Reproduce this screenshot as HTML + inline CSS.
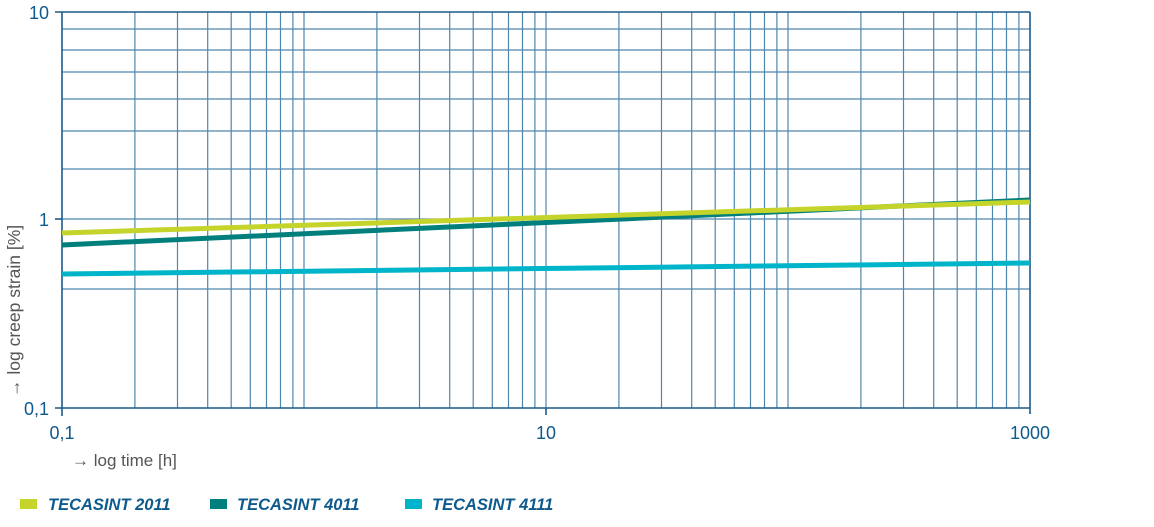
<!DOCTYPE html>
<html><head><meta charset="utf-8"><style>
body{margin:0;background:#fff;width:1154px;height:522px;overflow:hidden}
svg text{font-family:"Liberation Sans",sans-serif}
</style></head><body>
<svg width="1154" height="522" viewBox="0 0 1154 522" xmlns="http://www.w3.org/2000/svg">
<g stroke="#4f86ae" stroke-width="1.2">
<line x1="134.9" y1="12" x2="134.9" y2="408"/><line x1="177.5" y1="12" x2="177.5" y2="408"/><line x1="207.7" y1="12" x2="207.7" y2="408"/><line x1="231.2" y1="12" x2="231.2" y2="408"/><line x1="250.3" y1="12" x2="250.3" y2="408"/><line x1="266.5" y1="12" x2="266.5" y2="408"/><line x1="280.5" y1="12" x2="280.5" y2="408"/><line x1="292.9" y1="12" x2="292.9" y2="408"/><line x1="304" y1="12" x2="304" y2="408"/>
<line x1="376.9" y1="12" x2="376.9" y2="408"/><line x1="419.5" y1="12" x2="419.5" y2="408"/><line x1="449.7" y1="12" x2="449.7" y2="408"/><line x1="473.2" y1="12" x2="473.2" y2="408"/><line x1="492.3" y1="12" x2="492.3" y2="408"/><line x1="508.5" y1="12" x2="508.5" y2="408"/><line x1="522.5" y1="12" x2="522.5" y2="408"/><line x1="534.9" y1="12" x2="534.9" y2="408"/><line x1="546" y1="12" x2="546" y2="408"/>
<line x1="618.9" y1="12" x2="618.9" y2="408"/><line x1="661.5" y1="12" x2="661.5" y2="408"/><line x1="691.7" y1="12" x2="691.7" y2="408"/><line x1="715.2" y1="12" x2="715.2" y2="408"/><line x1="734.3" y1="12" x2="734.3" y2="408"/><line x1="750.5" y1="12" x2="750.5" y2="408"/><line x1="764.5" y1="12" x2="764.5" y2="408"/><line x1="776.9" y1="12" x2="776.9" y2="408"/><line x1="788" y1="12" x2="788" y2="408"/>
<line x1="860.9" y1="12" x2="860.9" y2="408"/><line x1="903.5" y1="12" x2="903.5" y2="408"/><line x1="933.7" y1="12" x2="933.7" y2="408"/><line x1="957.2" y1="12" x2="957.2" y2="408"/><line x1="976.3" y1="12" x2="976.3" y2="408"/><line x1="992.5" y1="12" x2="992.5" y2="408"/><line x1="1006.5" y1="12" x2="1006.5" y2="408"/><line x1="1018.9" y1="12" x2="1018.9" y2="408"/>
<line x1="62" y1="29" x2="1030" y2="29"/><line x1="62" y1="50" x2="1030" y2="50"/><line x1="62" y1="72" x2="1030" y2="72"/><line x1="62" y1="99" x2="1030" y2="99"/><line x1="62" y1="131" x2="1030" y2="131"/><line x1="62" y1="169" x2="1030" y2="169"/><line x1="62" y1="219" x2="1030" y2="219"/><line x1="62" y1="289" x2="1030" y2="289"/>
</g>
<g stroke="#1b5a8c" stroke-width="1.6" fill="none">
<line x1="55" y1="12" x2="1030" y2="12"/>
<line x1="1030" y1="12" x2="1030" y2="414"/>
<line x1="62" y1="12" x2="62" y2="416"/>
<line x1="55" y1="408" x2="1030" y2="408"/>
<line x1="55" y1="219" x2="62" y2="219"/>
<line x1="546" y1="408" x2="546" y2="415"/>
</g>
<g stroke-width="5" stroke-linecap="butt">
<line x1="62" y1="274" x2="1030" y2="263" stroke="#00b4c9"/>
<line x1="62" y1="245" x2="1030" y2="200" stroke="#007f7c"/>
<line x1="62" y1="233" x2="1030" y2="202" stroke="#c4d42a"/>
</g>
<g fill="#0f5a8c" font-size="18">
<text x="49" y="19" text-anchor="end">10</text>
<text x="49" y="226" text-anchor="end">1</text>
<text x="49" y="415" text-anchor="end">0,1</text>
<text x="62" y="439" text-anchor="middle">0,1</text>
<text x="546" y="439" text-anchor="middle">10</text>
<text x="1030" y="439" text-anchor="middle">1000</text>
</g>
<text x="72" y="466" fill="#555" font-size="17">→  log time [h]</text>
<text transform="translate(20,397) rotate(-90)" fill="#555" font-size="17.5">→  log creep strain [%]</text>
<g font-size="16.5" font-weight="bold" font-style="italic" fill="#0f5a8c">
<rect x="20" y="499" width="17" height="10" fill="#c4d42a"/>
<text x="48" y="510">TECASINT 2011</text>
<rect x="210" y="499" width="17" height="10" fill="#007f7c"/>
<text x="237" y="510">TECASINT 4011</text>
<rect x="405" y="499" width="17" height="10" fill="#00b4c9"/>
<text x="432" y="510">TECASINT 4111</text>
</g>
</svg>
</body></html>
